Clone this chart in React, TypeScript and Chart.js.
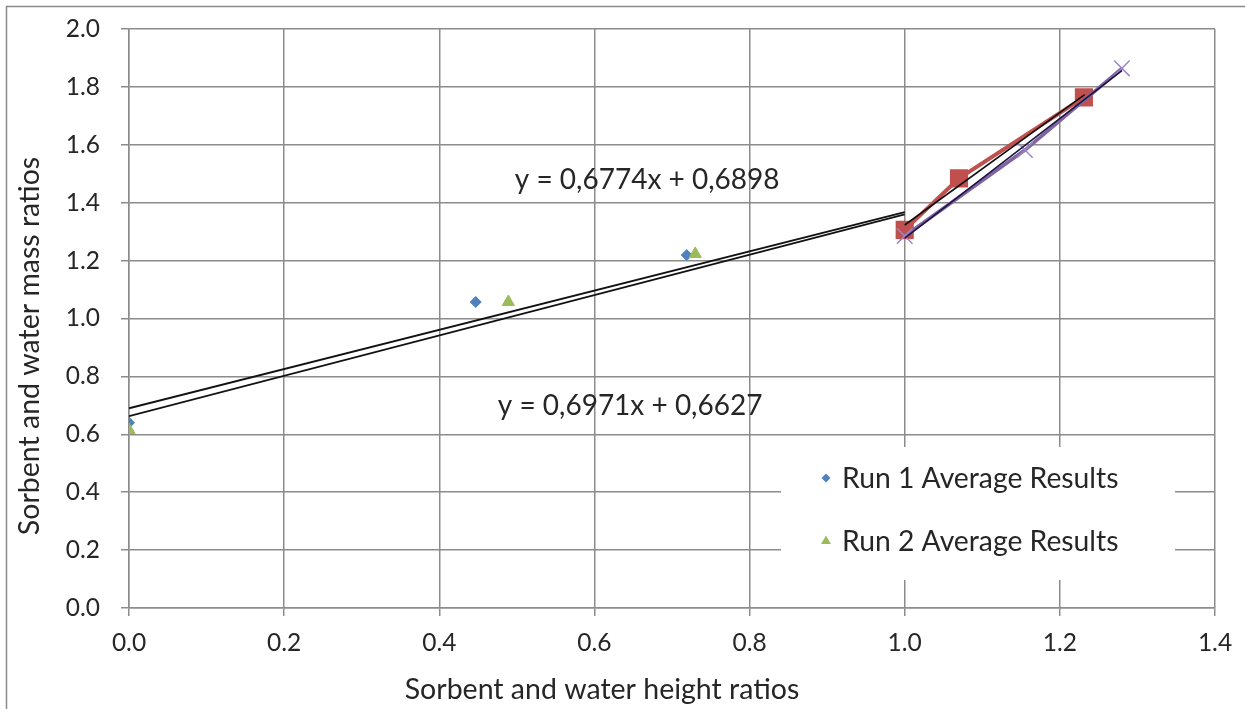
import React, { useEffect, useRef } from "react";
import { Chart, registerables } from "chart.js";

Chart.register(...registerables);

// ---- data ----
const run1X = [0.0, 0.447, 0.719, 1.0];
const run1Y = [0.64, 1.057, 1.219, 1.305];
const run2X = [0.0, 0.489, 0.73, 1.0];
const run2Y = [0.615, 1.057, 1.223, 1.287];
const run1HighX = [1.0, 1.07, 1.231];
const run1HighY = [1.306, 1.484, 1.764];
const run2HighX = [1.0, 1.155, 1.28];
const run2HighY = [1.285, 1.582, 1.864];
const trendRun1X = [0.0, 1.0];
const trendRun1Y = [0.6898, 1.3672];
const trendRun2X = [0.0, 1.0];
const trendRun2Y = [0.6627, 1.3598];
const trendHigh1X = [1.0, 1.232];
const trendHigh1Y = [1.323, 1.773];
const trendHigh2X = [1.0, 1.28];
const trendHigh2Y = [1.278, 1.856];

const xTickLabels = ["0.0", "0.2", "0.4", "0.6", "0.8", "1.0", "1.2", "1.4"];
const yTickLabels = ["0.0", "0.2", "0.4", "0.6", "0.8", "1.0", "1.2", "1.4", "1.6", "1.8", "2.0"];

const legendLabels = ["Run 1 Average Results", "Run 2 Average Results"];
const equationTexts = ["y = 0,6774x + 0,6898", "y = 0,6971x + 0,6627"];
const equationAnchorX = [0.668, 0.646];
const equationAnchorY = [1.478, 0.698];

const xTitle = "Sorbent and water height ratios";
const yTitle = "Sorbent and water mass ratios";

const FONT = "Lato, 'Open Sans', sans-serif";
const TEXT = "#262626";
const GRID = "#8c8c8c";

const BLUE = "#4F81BD";
const GREEN = "#9BBB59";
const RED = "#C0504D";
const PURPLE = "#8064A2";
const PURPLE_LIGHT = "#9C86C4";

const pts = (xs: number[], ys: number[]) => xs.map((x, i) => ({ x, y: ys[i] }));

function legendMarker(ctx: CanvasRenderingContext2D, style: string, color: string, r: number, x: number, y: number) {
  ctx.save();
  ctx.fillStyle = color;
  ctx.beginPath();
  if (style === "rectRot") {
    ctx.moveTo(x, y - r);
    ctx.lineTo(x + r, y);
    ctx.lineTo(x, y + r);
    ctx.lineTo(x - r, y);
  } else {
    ctx.moveTo(x, y - r);
    ctx.lineTo(x + r * 0.9, y + r * 0.55);
    ctx.lineTo(x - r * 0.9, y + r * 0.55);
  }
  ctx.closePath();
  ctx.fill();
  ctx.restore();
}

export default function App() {
  const ref = useRef<HTMLCanvasElement | null>(null);

  useEffect(() => {
    const canvas = ref.current;
    if (!canvas) return;

    const backgroundPlugin = {
      id: "bg",
      beforeDraw(chart: any) {
        const ctx = chart.ctx;
        ctx.save();
        ctx.fillStyle = "#ffffff";
        ctx.fillRect(0, 0, chart.width, chart.height);
        ctx.strokeStyle = "#8a8a8a";
        ctx.lineWidth = 1.5;
        ctx.beginPath();
        ctx.moveTo(6.5, chart.height);
        ctx.lineTo(6.5, 6.5);
        ctx.lineTo(chart.width, 6.5);
        ctx.stroke();
        ctx.restore();
      },
    };

    const overlayPlugin = {
      id: "overlay",
      afterDraw(chart: any) {
        const ctx = chart.ctx;
        const xs = chart.scales.x;
        const ys = chart.scales.y;
        ctx.save();

        // equations
        ctx.fillStyle = TEXT;
        ctx.font = `28px ${FONT}`;
        ctx.textAlign = "center";
        ctx.textBaseline = "middle";
        equationTexts.forEach((t, i) => {
          ctx.fillText(t, xs.getPixelForValue(equationAnchorX[i]), ys.getPixelForValue(equationAnchorY[i]));
        });

        // legend box
        ctx.fillStyle = "#ffffff";
        ctx.fillRect(781, 447, 394, 133);
        const legendSets = chart.data.datasets.filter((d: any) => d.inLegend);
        legendSets.sort((a: any, b: any) => a.legendIndex - b.legendIndex);
        const rowY = [478, 541];
        legendSets.forEach((d: any, i: number) => {
          legendMarker(ctx, d.pointStyle, d.pointBackgroundColor, d.legendRadius, 826, rowY[i]);
          ctx.fillStyle = TEXT;
          ctx.font = `28.3px ${FONT}`;
          ctx.textAlign = "left";
          ctx.textBaseline = "middle";
          ctx.fillText(d.label, 842, rowY[i] + 1);
        });

        // axis titles
        ctx.fillStyle = TEXT;
        ctx.font = `28.5px ${FONT}`;
        ctx.textAlign = "center";
        ctx.textBaseline = "middle";
        ctx.fillText(chart.options.scales.x.title.text, 602, 690);
        ctx.translate(30, 346);
        ctx.rotate(-Math.PI / 2);
        ctx.fillText(chart.options.scales.y.title.text, 0, 0);
        ctx.restore();
      },
    };

    const chart = new Chart(canvas, {
      type: "scatter",
      data: {
        datasets: [
          {
            label: "trend run 1",
            data: pts(trendRun1X, trendRun1Y),
            showLine: true,
            borderColor: "#111111",
            borderWidth: 1.8,
            pointRadius: 0,
            order: 0,
          },
          {
            label: "trend run 2",
            data: pts(trendRun2X, trendRun2Y),
            showLine: true,
            borderColor: "#111111",
            borderWidth: 1.8,
            pointRadius: 0,
            order: 0,
          },
          {
            label: "trend high 1",
            data: pts(trendHigh1X, trendHigh1Y),
            showLine: true,
            borderColor: "#111111",
            borderWidth: 1.6,
            pointRadius: 0,
            order: 0,
          },
          {
            label: "trend high 2",
            data: pts(trendHigh2X, trendHigh2Y),
            showLine: true,
            borderColor: "#1a1440",
            borderWidth: 1.6,
            pointRadius: 0,
            order: 0,
          },
          {
            label: "Run 2 high",
            data: pts(run2HighX, run2HighY),
            showLine: true,
            borderColor: PURPLE,
            backgroundColor: PURPLE_LIGHT,
            borderWidth: 3.5,
            pointStyle: "crossRot",
            pointRadius: 11,
            pointBorderColor: PURPLE_LIGHT,
            pointBorderWidth: 1.5,
            order: 1,
          },
          {
            label: "Run 1 high",
            data: pts(run1HighX, run1HighY),
            showLine: true,
            borderColor: RED,
            backgroundColor: RED,
            borderWidth: 4,
            pointStyle: "rect",
            pointRadius: 10,
            pointBorderColor: RED,
            pointBackgroundColor: RED,
            order: 2,
          },
          {
            label: legendLabels[1],
            data: pts(run2X, run2Y),
            showLine: false,
            pointStyle: "triangle",
            pointRadius: 7,
            pointBackgroundColor: GREEN,
            pointBorderColor: GREEN,
            backgroundColor: GREEN,
            borderColor: GREEN,
            borderWidth: 1,
            order: 3,
            inLegend: true,
            legendIndex: 1,
            legendRadius: 5.5,
          } as any,
          {
            label: legendLabels[0],
            data: pts(run1X, run1Y),
            showLine: false,
            pointStyle: "rectRot",
            pointRadius: 5.5,
            pointBackgroundColor: BLUE,
            pointBorderColor: BLUE,
            backgroundColor: BLUE,
            borderColor: BLUE,
            borderWidth: 1,
            order: 4,
            inLegend: true,
            legendIndex: 0,
            legendRadius: 4.5,
          } as any,
        ],
      },
      options: {
        animation: false,
        responsive: false,
        maintainAspectRatio: false,
        layout: { padding: { top: 29, right: 30, left: 0, bottom: 0 } },
        plugins: {
          legend: { display: false },
          tooltip: { enabled: false },
        },
        scales: {
          x: {
            type: "linear",
            min: 0,
            max: 1.4,
            afterFit: (s: any) => {
              s.height = 101;
              s.paddingLeft = 0;
              s.paddingRight = 0;
            },
            afterBuildTicks: (s: any) => {
              s.ticks = xTickLabels.map((_l, i) => ({ value: i * 0.2 }));
            },
            ticks: {
              callback: (_v: any, i: number) => xTickLabels[i],
              color: TEXT,
              font: { family: FONT, size: 24.5 },
              padding: 12,
              maxRotation: 0,
            },
            grid: { color: GRID, lineWidth: 1.5, tickLength: 8, tickColor: GRID },
            border: { color: GRID, width: 1.5 },
            title: { display: false, text: xTitle },
          },
          y: {
            type: "linear",
            min: 0,
            max: 2,
            afterFit: (s: any) => {
              s.width = 129;
              s.paddingTop = 0;
              s.paddingBottom = 0;
            },
            afterBuildTicks: (s: any) => {
              s.ticks = yTickLabels.map((_l, i) => ({ value: i * 0.2 }));
            },
            ticks: {
              callback: (_v: any, i: number) => yTickLabels[i],
              color: TEXT,
              font: { family: FONT, size: 24.5 },
              padding: 21,
            },
            grid: { color: GRID, lineWidth: 1.5, tickLength: 8, tickColor: GRID },
            border: { color: GRID, width: 1.5 },
            title: { display: false, text: yTitle },
          },
        },
      },
      plugins: [backgroundPlugin, overlayPlugin],
    } as any);

    return () => {
      chart.destroy();
    };
  }, []);

  return (
    <div style={{ position: "absolute", left: 0, top: 0, width: 1245, height: 709, background: "#fff" }}>
      <canvas ref={ref} width={1245} height={709} style={{ display: "block", width: 1245, height: 709 }} />
    </div>
  );
}
